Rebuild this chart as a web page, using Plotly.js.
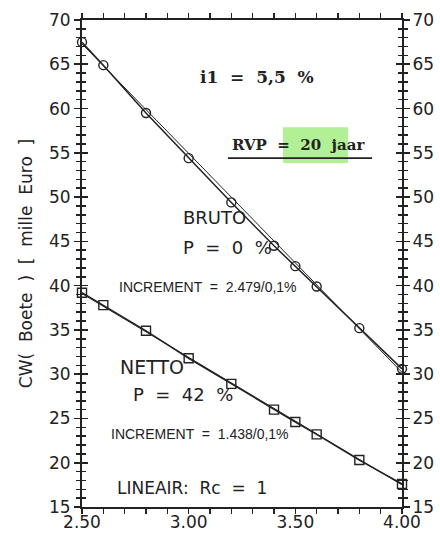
<!DOCTYPE html>
<html>
<head>
<meta charset="utf-8">
<script src="https://cdn.plot.ly/plotly-3.0.1.min.js"></script>
<style>html,body{margin:0;padding:0;background:#fff;}#chart{width:440px;height:541px;}</style>
</head>
<body>
<div id="chart"></div>
<script>
// ---- data ----
const rate = [2.50, 2.60, 2.80, 3.00, 3.20, 3.40, 3.50, 3.60, 3.80, 4.00];
const bruto = [67.5, 64.9, 59.5, 54.4, 49.4, 44.5, 42.2, 39.9, 35.2, 30.6];
const netto = [39.2, 37.8, 34.9, 31.8, 28.9, 26.0, 24.6, 23.2, 20.3, 17.6];
const fitX = [2.50, 4.00];
const brutoFit = [67.3, 30.2];
const nettoFit = [39.1, 17.5];
// ---- x tick labels ----
const xLabelVals = [2.5, 3.0, 3.5, 4.0];
const xLabelText = ['2.50', '3.00', '3.50', '4.00'];

const sans = 'DejaVu Sans, Arial, sans-serif';
const serifB = 'DejaVu Serif, Liberation Serif, serif';
const narrow = 'Liberation Sans Narrow, Liberation Sans, Arial, sans-serif';
const ink = '#222';
const xr = [2.5, 4.0], yr = [15, 70];

const traces = [
  {x: fitX, y: brutoFit, xaxis: 'x', yaxis: 'y3', mode: 'lines', line: {color: ink, width: 1}, hoverinfo: 'skip'},
  {x: fitX, y: nettoFit, xaxis: 'x', yaxis: 'y2', mode: 'lines', line: {color: ink, width: 1}, hoverinfo: 'skip'},
  {x: rate, y: bruto, mode: 'lines+markers', cliponaxis: false,
   line: {color: ink, width: 1.5},
   marker: {symbol: 'circle-open', size: 9, color: ink, line: {width: 1.4}}},
  {x: rate, y: netto, mode: 'lines+markers', cliponaxis: false,
   line: {color: ink, width: 1.5},
   marker: {symbol: 'square-open', size: 9, color: ink, line: {width: 1.4}}},
  // x-axis tick labels, placed through the x scale at the bottom of the y range
  {x: xLabelVals, y: xLabelVals.map(() => yr[0]), mode: 'markers+text', text: xLabelText,
   textposition: 'bottom center', cliponaxis: false, hoverinfo: 'skip',
   marker: {size: 12, color: 'rgba(0,0,0,0)'},
   textfont: {family: sans, size: 17, color: ink}}
];

const tk = {tickcolor: ink, tickwidth: 1.6, ticklen: 6};
const yMinor = (side) => ({dtick: 1, tick0: 15, ticks: side, ticklen: 4, tickwidth: 1.5, tickcolor: ink});
const common = {showgrid: false, zeroline: false, fixedrange: true};

const layout = {
  width: 440, height: 541,
  margin: {l: 82, r: 38, t: 20, b: 34},
  paper_bgcolor: '#fff', plot_bgcolor: 'rgba(0,0,0,0)',
  showlegend: false,
  font: {family: sans, color: ink, size: 16},
  xaxis: Object.assign({}, common, tk, {
    range: xr, tickmode: 'linear', tick0: 2.5, dtick: 0.1,
    ticks: 'outside', ticklen: 5,
    showticklabels: false,
    showline: true, linewidth: 2, linecolor: ink, mirror: 'allticks'
  }),
  yaxis: Object.assign({}, common, tk, {
    range: yr, tickmode: 'linear', tick0: 15, dtick: 5,
    ticks: 'outside', minor: yMinor('outside'),
    showline: true, linewidth: 2, linecolor: ink, mirror: 'allticks',
    tickfont: {family: sans, size: 17, color: ink},
    title: {text: 'CW(  Boete  )  [  mille  Euro  ]', font: {family: sans, size: 17, color: ink}, standoff: 12}
  }),
  yaxis2: Object.assign({}, common, tk, {
    overlaying: 'y', side: 'right', anchor: 'x',
    range: yr, tickmode: 'linear', tick0: 15, dtick: 5,
    ticks: 'outside', minor: yMinor('outside'),
    showline: false,
    tickfont: {family: sans, size: 17, color: ink}
  }),
  yaxis3: Object.assign({}, common, tk, {
    overlaying: 'y', side: 'left', anchor: 'x',
    range: yr, tickmode: 'linear', tick0: 15, dtick: 5, showticklabels: false,
    ticks: 'inside', minor: yMinor('inside'),
    showline: false, mirror: 'allticks'
  }),
  shapes: [
    {type: 'rect', xref: 'x', yref: 'y', x0: 3.442, x1: 3.747, y0: 53.85, y1: 57.9,
     fillcolor: 'rgb(178,240,150)', line: {width: 0}, layer: 'below'},
    {type: 'line', xref: 'x', yref: 'y', x0: 3.184, x1: 3.86, y0: 54.4, y1: 54.4,
     line: {color: ink, width: 1.8}}
  ],
  annotations: [
    {x: 3.32, y: 63.6, text: '<b>i1  =  5,5  %</b>', font: {family: serifB, size: 17, color: ink}},
    {x: 3.517, y: 55.9, text: '<b>RVP  =  20  jaar</b>', font: {family: serifB, size: 15, color: ink}},
    {x: 3.119, y: 47.7, text: 'BRUTO', font: {family: sans, size: 18, color: ink}},
    {x: 3.184, y: 44.35, text: 'P  =  0  %', font: {family: sans, size: 18, color: ink}},
    {x: 3.091, y: 39.8, text: 'INCREMENT  =  2.479/0,1%', font: {family: narrow, size: 14, color: ink}},
    {x: 2.83, y: 30.8, text: 'NETTO', font: {family: sans, size: 19, color: ink}},
    {x: 2.973, y: 27.7, text: 'P  =  42  %', font: {family: sans, size: 18, color: ink}},
    {x: 3.053, y: 23.2, text: 'INCREMENT  =  1.438/0,1%', font: {family: narrow, size: 14, color: ink}},
    {x: 3.016, y: 17.1, text: 'LINEAIR:  Rc  =  1', font: {family: sans, size: 17, color: ink}}
  ].map(a => Object.assign({xref: 'x', yref: 'y', showarrow: false, xanchor: 'center', yanchor: 'middle'}, a))
};

Plotly.newPlot('chart', traces, layout, {staticPlot: true, displayModeBar: false});
</script>
</body>
</html>
